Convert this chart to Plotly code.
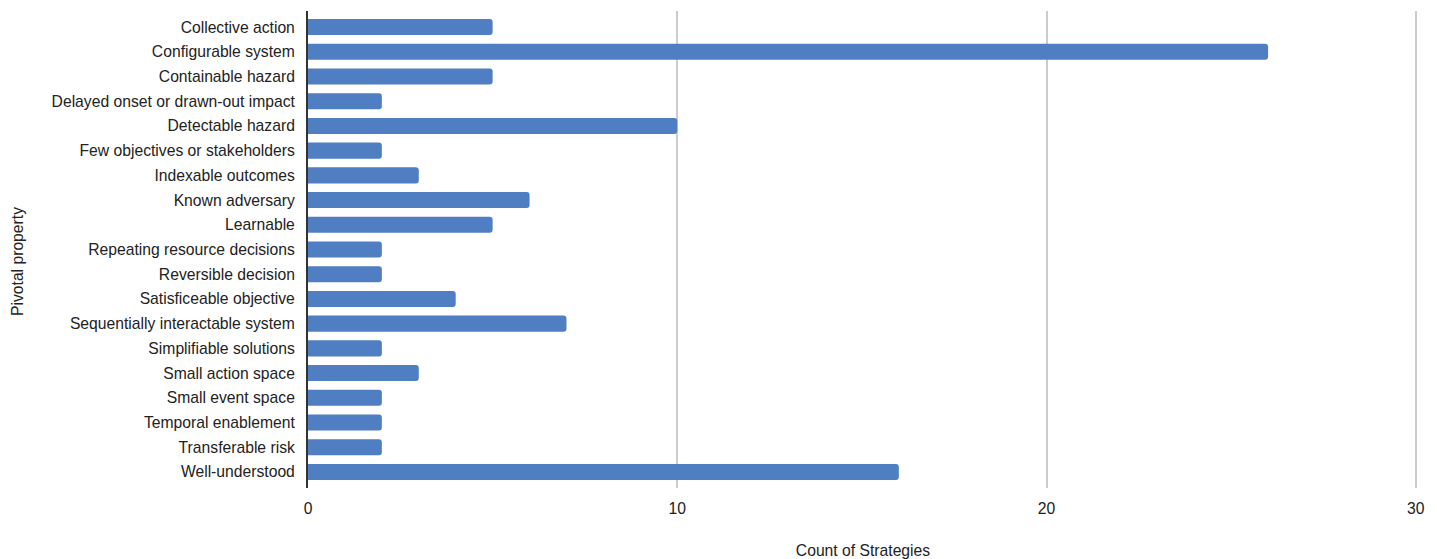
import plotly.graph_objects as go

categories = [
    "Collective action", "Configurable system", "Containable hazard",
    "Delayed onset or drawn-out impact", "Detectable hazard",
    "Few objectives or stakeholders", "Indexable outcomes", "Known adversary",
    "Learnable", "Repeating resource decisions", "Reversible decision",
    "Satisficeable objective", "Sequentially interactable system",
    "Simplifiable solutions", "Small action space", "Small event space",
    "Temporal enablement", "Transferable risk", "Well-understood",
]
counts = [5, 26, 5, 2, 10, 2, 3, 6, 5, 2, 2, 4, 7, 2, 3, 2, 2, 2, 16]
x_ticks = [0, 10, 20, 30]

FONT = "Arial, Liberation Sans, sans-serif"

fig = go.Figure(go.Bar(
    x=counts, y=categories, orientation="h",
    marker=dict(color="#507ec2", cornerradius=3, line=dict(width=0)),
    width=0.65,
))

fig.update_layout(
    width=1437, height=559,
    margin=dict(l=308, r=19, t=11, b=71),
    plot_bgcolor="white", paper_bgcolor="white",
    font=dict(family=FONT, size=15.7, color="#222222"),
    showlegend=False,
)
fig.update_xaxes(
    range=[0, 30.06], tickvals=x_ticks, showgrid=True, gridcolor="#cccccc", gridwidth=2,
    zeroline=False, showline=False, ticks="", ticklabelstandoff=9,
    automargin=False,
    title=dict(text="Count of Strategies", standoff=30, font=dict(size=15.7)),
)
fig.update_yaxes(
    categoryorder="array", categoryarray=categories,
    range=[18.65, -0.65], showgrid=False, zeroline=False,
    showline=True, linecolor="#333333", linewidth=2, ticks="",
    ticklabelstandoff=8, automargin=False,
)
fig.add_annotation(text="Pivotal property", textangle=-90,
                   x=(17 - 308) / (1437 - 308 - 19), xref="x domain", xanchor="center",
                   y=(488 - 262) / 477, yref="paper", yanchor="middle", showarrow=False,
                   font=dict(size=15.7))

fig.write_html("out.html")
